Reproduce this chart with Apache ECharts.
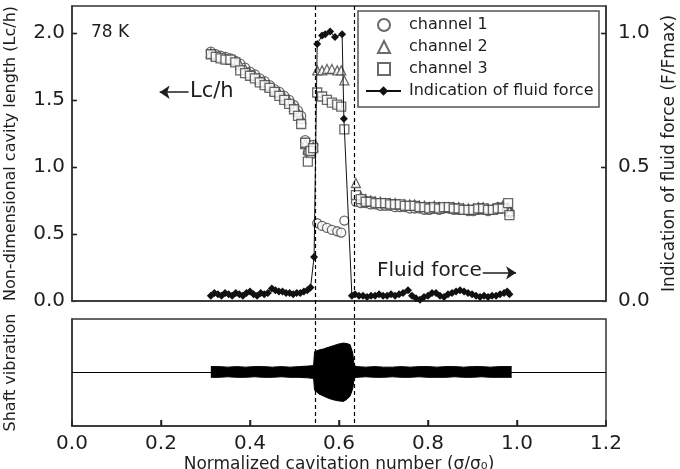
<!DOCTYPE html>
<html>
<head>
<meta charset="utf-8">
<script src="https://cdn.jsdelivr.net/npm/echarts@6/dist/echarts.min.js"></script>
<style>
  html, body { margin: 0; padding: 0; background: #fff; }
  #main { width: 680px; height: 469px; }
</style>
</head>
<body>
<div id="main"></div>
<script>
// sigma/sigma0 positions of the pressure sensor readings
const sigmaLow = [0.312, 0.323, 0.334, 0.345, 0.356, 0.367, 0.378, 0.389, 0.400, 0.411, 0.422, 0.433, 0.444, 0.455, 0.466, 0.477, 0.488, 0.499, 0.508, 0.515]
const sigmaDrop = [0.524, 0.530, 0.536, 0.542]
const sigmaMid = [0.551, 0.562, 0.573, 0.584, 0.596, 0.605, 0.612]
const sigmaHigh = [0.638, 0.649, 0.660, 0.671, 0.682, 0.693, 0.704, 0.715, 0.726, 0.737, 0.748, 0.759, 0.770, 0.781, 0.792, 0.803, 0.814, 0.825, 0.836, 0.847, 0.858, 0.869, 0.880, 0.891, 0.902, 0.913, 0.924, 0.935, 0.946, 0.957, 0.968, 0.980, 0.983]

// Lc/h, channel 1 (circles)
const ch1Low = [1.86, 1.84, 1.83, 1.82, 1.81, 1.79, 1.77, 1.74, 1.71, 1.69, 1.66, 1.64, 1.61, 1.58, 1.56, 1.53, 1.50, 1.46, 1.42, 1.38]
const ch1Drop = [1.20, 1.11, 1.16, 1.165]
const ch1Mid = [0.58, 0.56, 0.545, 0.53, 0.52, 0.51, 0.60]
const ch1High = [0.74, 0.73, 0.73, 0.72, 0.72, 0.71, 0.71, 0.71, 0.70, 0.70, 0.70, 0.69, 0.69, 0.69, 0.68, 0.68, 0.69, 0.68, 0.69, 0.69, 0.68, 0.68, 0.68, 0.67, 0.67, 0.68, 0.68, 0.67, 0.68, 0.70, 0.70, 0.68, 0.66]
// channel 2 (triangles)
const ch2Low = [1.85, 1.83, 1.82, 1.81, 1.80, 1.79, 1.76, 1.73, 1.70, 1.68, 1.65, 1.63, 1.60, 1.57, 1.55, 1.52, 1.49, 1.45, 1.41, 1.36]
const ch2Drop = [1.17, 1.13, 1.10, 1.15]
const ch2Mid = [1.72, 1.72, 1.73, 1.73, 1.72, 1.72, 1.645]
const ch2High = [0.88, 0.78, 0.76, 0.75, 0.74, 0.74, 0.73, 0.73, 0.73, 0.72, 0.72, 0.72, 0.72, 0.71, 0.71, 0.70, 0.71, 0.70, 0.70, 0.70, 0.70, 0.70, 0.69, 0.69, 0.69, 0.70, 0.70, 0.69, 0.69, 0.70, 0.71, 0.70, 0.67]
// channel 3 (squares)
const ch3Low = [1.84, 1.82, 1.81, 1.80, 1.80, 1.78, 1.72, 1.70, 1.68, 1.66, 1.63, 1.61, 1.59, 1.56, 1.53, 1.50, 1.47, 1.43, 1.38, 1.32]
const ch3Drop = [1.18, 1.04, 1.12, 1.14]
const ch3Mid = [1.555, 1.525, 1.50, 1.48, 1.465, 1.45, 1.28]
const ch3High = [0.79, 0.76, 0.74, 0.74, 0.73, 0.73, 0.73, 0.72, 0.72, 0.72, 0.71, 0.71, 0.71, 0.70, 0.70, 0.69, 0.70, 0.69, 0.70, 0.70, 0.69, 0.69, 0.68, 0.68, 0.68, 0.69, 0.69, 0.68, 0.68, 0.69, 0.69, 0.73, 0.64]

// indication of fluid force (F/Fmax)
const forceSigma = [0.312, 0.320, 0.328, 0.336, 0.344, 0.352, 0.360, 0.368, 0.376, 0.384, 0.392, 0.400, 0.408, 0.416, 0.424, 0.432, 0.440, 0.449, 0.457, 0.465, 0.473, 0.481, 0.489, 0.497, 0.505, 0.513, 0.521, 0.529, 0.536, 0.544,
  0.551, 0.562, 0.569, 0.580, 0.591, 0.607, 0.611,
  0.629, 0.636, 0.645, 0.654, 0.663, 0.672, 0.681, 0.690, 0.699, 0.708, 0.717, 0.726, 0.735, 0.744, 0.755, 0.764, 0.773, 0.782, 0.791, 0.800, 0.809, 0.818, 0.827, 0.836, 0.845, 0.854, 0.863, 0.872, 0.881, 0.890, 0.899, 0.908, 0.917, 0.926, 0.935, 0.944, 0.953, 0.962, 0.971, 0.978, 0.983]
const force = [0.02, 0.03, 0.025, 0.02, 0.03, 0.025, 0.02, 0.03, 0.025, 0.02, 0.03, 0.035, 0.025, 0.02, 0.03, 0.025, 0.03, 0.047, 0.04, 0.035, 0.035, 0.03, 0.03, 0.025, 0.03, 0.03, 0.035, 0.04, 0.05, 0.164,
  0.958, 0.99, 0.995, 1.005, 0.984, 0.995, 0.68,
  0.02, 0.025, 0.02, 0.02, 0.015, 0.02, 0.02, 0.025, 0.02, 0.02, 0.025, 0.02, 0.025, 0.03, 0.04, 0.02, 0.01, 0.005, 0.015, 0.02, 0.03, 0.03, 0.02, 0.015, 0.025, 0.03, 0.035, 0.04, 0.035, 0.03, 0.025, 0.02, 0.015, 0.02, 0.015, 0.02, 0.02, 0.025, 0.03, 0.035, 0.025]

// shaft vibration envelope
const vibSigma = [0.312, 0.33, 0.35, 0.37, 0.39, 0.41, 0.43, 0.45, 0.47, 0.49, 0.51, 0.53, 0.543, 0.545, 0.555, 0.565, 0.576, 0.587, 0.598, 0.610, 0.618, 0.625, 0.631, 0.634, 0.64, 0.66, 0.68, 0.70, 0.72, 0.74, 0.76, 0.78, 0.80, 0.82, 0.84, 0.86, 0.88, 0.90, 0.92, 0.94, 0.96, 0.975, 0.988]
const vibUpper = [0.11, 0.11, 0.10, 0.11, 0.10, 0.11, 0.11, 0.10, 0.11, 0.10, 0.11, 0.12, 0.13, 0.39, 0.42, 0.44, 0.47, 0.50, 0.53, 0.55, 0.54, 0.52, 0.36, 0.13, 0.11, 0.10, 0.11, 0.10, 0.10, 0.11, 0.10, 0.11, 0.11, 0.10, 0.11, 0.11, 0.10, 0.11, 0.11, 0.10, 0.11, 0.11, 0.11]
const vibLower = [-0.09, -0.09, -0.08, -0.09, -0.09, -0.08, -0.09, -0.09, -0.08, -0.09, -0.09, -0.10, -0.11, -0.33, -0.40, -0.44, -0.48, -0.51, -0.53, -0.54, -0.50, -0.44, -0.30, -0.10, -0.09, -0.08, -0.09, -0.09, -0.08, -0.09, -0.09, -0.08, -0.09, -0.09, -0.09, -0.08, -0.09, -0.09, -0.08, -0.09, -0.09, -0.09, -0.09]

const stallBounds = [0.546, 0.634]
const xTicks = [0.2, 0.4, 0.6, 0.8, 1.0]
const lcTicks = [0.5, 1.0, 1.5, 2.0]
const forceTicks = [0.5, 1.0]

const FONT = 'DejaVu Sans'
const INK = '#1e1e1e'
const AXIS = '#333'

function pairs(xs, ys) {
    return xs.map((x, i) => [x, ys[i]])
}
const allSigma = sigmaLow.concat(sigmaDrop, sigmaMid, sigmaHigh)
const ch1 = pairs(allSigma, ch1Low.concat(ch1Drop, ch1Mid, ch1High))
const ch2 = pairs(allSigma, ch2Low.concat(ch2Drop, ch2Mid, ch2High))
const ch3 = pairs(allSigma, ch3Low.concat(ch3Drop, ch3Mid, ch3High))

const chart = echarts.init(document.getElementById('main'))

const markerStyle = { color: '#fff', borderColor: '#444', borderWidth: 1.3 }
const legendText = { fontFamily: FONT, fontSize: 16, color: INK }

const option = {
    animation: false,
    textStyle: { fontFamily: FONT, color: INK },
    grid: [
        { left: 72, right: 74, top: 6, height: 295, outerBoundsMode: 'none', containLabel: false, show: true, borderColor: AXIS, borderWidth: 1.5, backgroundColor: 'transparent' },
        { left: 72, right: 74, top: 319, height: 107, outerBoundsMode: 'none', containLabel: false, show: true, borderColor: AXIS, borderWidth: 1.5, backgroundColor: 'transparent' }
    ],
    legend: [
        {
            data: ['channel 1', 'channel 2', 'channel 3'],
            orient: 'vertical', left: 377, top: 17, padding: 0,
            itemGap: 6, itemWidth: 12, itemHeight: 12,
            textStyle: Object.assign({ padding: [0, 0, 0, 14] }, legendText)
        },
        {
            data: ['Indication of fluid force'],
            orient: 'vertical', left: 365, top: 83, padding: 0,
            itemWidth: 35, itemHeight: 12,
            textStyle: Object.assign({ padding: [0, 0, 0, 3] }, legendText)
        }
    ],
    xAxis: [
        {
            gridIndex: 0, type: 'value', min: 0, max: 1.2, interval: 0.2,
            axisLine: { onZero: false, lineStyle: { color: AXIS, width: 1.5 } },
            axisTick: { show: false }, axisLabel: { show: false }, splitLine: { show: false }
        },
        {
            gridIndex: 1, type: 'value', min: 0, max: 1.2, interval: 0.2,
            axisLine: { onZero: false, lineStyle: { color: AXIS, width: 1.5 } },
            axisTick: { show: true, inside: true, length: 6, lineStyle: { color: '#222', width: 1.5 } },
            axisLabel: { fontSize: 20, color: INK, margin: 8, formatter: v => v.toFixed(1) },
            splitLine: { show: false },
            name: 'Normalized cavitation number (σ/σ₀)',
            nameLocation: 'middle', nameGap: 30,
            nameTextStyle: { fontSize: 17, color: INK }
        }
    ],
    yAxis: [
        {
            gridIndex: 0, type: 'value', min: 0, max: 2.2, interval: 0.5,
            axisLine: { show: true, onZero: false, lineStyle: { color: AXIS, width: 1.5 } },
            axisTick: { inside: true, length: 4, lineStyle: { color: AXIS, width: 1.2 } },
            axisLabel: { fontSize: 20, color: INK, margin: 7, showMaxLabel: false, formatter: v => v.toFixed(1) },
            splitLine: { show: false },
            name: 'Non-dimensional cavity length (Lc/h)',
            nameLocation: 'middle', nameRotate: 90, nameGap: 53,
            nameTextStyle: { fontSize: 16, color: INK }
        },
        {
            gridIndex: 0, type: 'value', position: 'right', min: 0, max: 1.1, interval: 0.5,
            axisLine: { show: true, onZero: false, lineStyle: { color: AXIS, width: 1.5 } },
            axisTick: { inside: true, length: 4, lineStyle: { color: AXIS, width: 1.2 } },
            axisLabel: { fontSize: 20, color: INK, margin: 12, showMaxLabel: false, formatter: v => v.toFixed(1) },
            splitLine: { show: false },
            name: 'Indication of fluid force (F/Fmax)',
            nameLocation: 'middle', nameRotate: 90, nameGap: 44,
            nameTextStyle: { fontSize: 17, color: INK }
        },
        {
            gridIndex: 1, type: 'value', min: -1, max: 1,
            axisLine: { show: true, onZero: false, lineStyle: { color: AXIS, width: 1.5 } },
            axisTick: { show: false }, axisLabel: { show: false }, splitLine: { show: false },
            name: 'Shaft vibration',
            nameLocation: 'middle', nameRotate: 90, nameGap: 53,
            nameTextStyle: { fontSize: 16, color: INK }
        }
    ],
    series: [
        {
            name: 'channel 1', type: 'scatter', xAxisIndex: 0, yAxisIndex: 0,
            symbol: 'circle', symbolSize: 9, itemStyle: markerStyle, data: ch1,
            markLine: {
                silent: true, symbol: ['none', 'arrow'], symbolSize: 10,
                lineStyle: { color: INK, width: 1.5, type: 'solid' }, label: { show: false },
                data: [
                    [{ coord: [0.262, 1.557] }, { coord: [0.197, 1.557] }],
                    [{ coord: [0.923, 0.21] }, { coord: [0.998, 0.21] }]
                ]
            }
        },
        {
            name: 'channel 2', type: 'scatter', xAxisIndex: 0, yAxisIndex: 0,
            symbol: 'triangle', symbolSize: 9, itemStyle: markerStyle, data: ch2
        },
        {
            name: 'channel 3', type: 'scatter', xAxisIndex: 0, yAxisIndex: 0,
            symbol: 'rect', symbolSize: 9, itemStyle: markerStyle, data: ch3
        },
        {
            name: 'Indication of fluid force', type: 'line', xAxisIndex: 0, yAxisIndex: 1,
            symbol: 'diamond', symbolSize: 8, showAllSymbol: true,
            lineStyle: { color: '#111', width: 1 },
            itemStyle: { color: '#111' },
            data: pairs(forceSigma, force), z: 3
        },
        {
            name: 'vib+', type: 'line', xAxisIndex: 1, yAxisIndex: 2, symbol: 'none',
            lineStyle: { color: '#000', width: 1 }, areaStyle: { color: '#000', opacity: 1 },
            data: pairs(vibSigma, vibUpper)
        },
        {
            name: 'vib-', type: 'line', xAxisIndex: 1, yAxisIndex: 2, symbol: 'none',
            lineStyle: { color: '#000', width: 1 }, areaStyle: { color: '#000', opacity: 1 },
            data: pairs(vibSigma, vibLower),
            markLine: {
                silent: true, symbol: 'none', label: { show: false },
                lineStyle: { color: '#000', width: 1, type: 'solid' },
                data: [{ yAxis: 0 }]
            }
        }
    ],
    graphic: [
        // legend frame
        { type: 'rect', z: 3, shape: { x: 358, y: 11, width: 241, height: 96 }, style: { fill: '#fff', stroke: '#555', lineWidth: 1.5 } },
        { type: 'text', left: 91, top: 24, style: { text: '78 K', font: '17px "DejaVu Sans"', fill: INK } },
        { type: 'text', left: 190, top: 81, style: { text: 'Lc/h', font: '21px "DejaVu Sans"', fill: INK } },
        { type: 'text', left: 377, top: 261, style: { text: 'Fluid force', font: '20px "DejaVu Sans"', fill: INK } }
    ]
}
chart.setOption(option)

// dashed markers of the unstable range, running through both panels
const yTop = chart.convertToPixel({ yAxisIndex: 0 }, 2.2)
const yBottom = chart.convertToPixel({ yAxisIndex: 2 }, -1)
const dashed = stallBounds.map(v => {
    const x = Math.round(chart.convertToPixel({ xAxisIndex: 1 }, v)) + 0.5
    return {
        type: 'line', silent: true, z: 10,
        shape: { x1: x, y1: yTop, x2: x, y2: yBottom },
        style: { stroke: '#000', lineWidth: 1.2, lineDash: [4, 3] }
    }
})

// inward tick marks, placed through the axes' own scales
const tickStyle = { stroke: '#222', lineWidth: 1.5 }
const xLeft = chart.convertToPixel({ xAxisIndex: 0 }, 0)
const xRight = chart.convertToPixel({ xAxisIndex: 0 }, 1.2)
const ticks = []
xTicks.forEach(v => {
    const x = Math.round(chart.convertToPixel({ xAxisIndex: 1 }, v)) + 0.5
    ticks.push({ type: 'line', silent: true, z: 10, shape: { x1: x, y1: yBottom, x2: x, y2: yBottom - 6 }, style: tickStyle })
})
lcTicks.forEach(v => {
    const y = Math.round(chart.convertToPixel({ yAxisIndex: 0 }, v)) + 0.5
    ticks.push({ type: 'line', silent: true, z: 10, shape: { x1: xLeft, y1: y, x2: xLeft + 5, y2: y }, style: tickStyle })
})
forceTicks.forEach(v => {
    const y = Math.round(chart.convertToPixel({ yAxisIndex: 1 }, v)) + 0.5
    ticks.push({ type: 'line', silent: true, z: 10, shape: { x1: xRight, y1: y, x2: xRight - 5, y2: y }, style: tickStyle })
})

chart.setOption({ graphic: option.graphic.concat(dashed, ticks) })
</script>
</body>
</html>
